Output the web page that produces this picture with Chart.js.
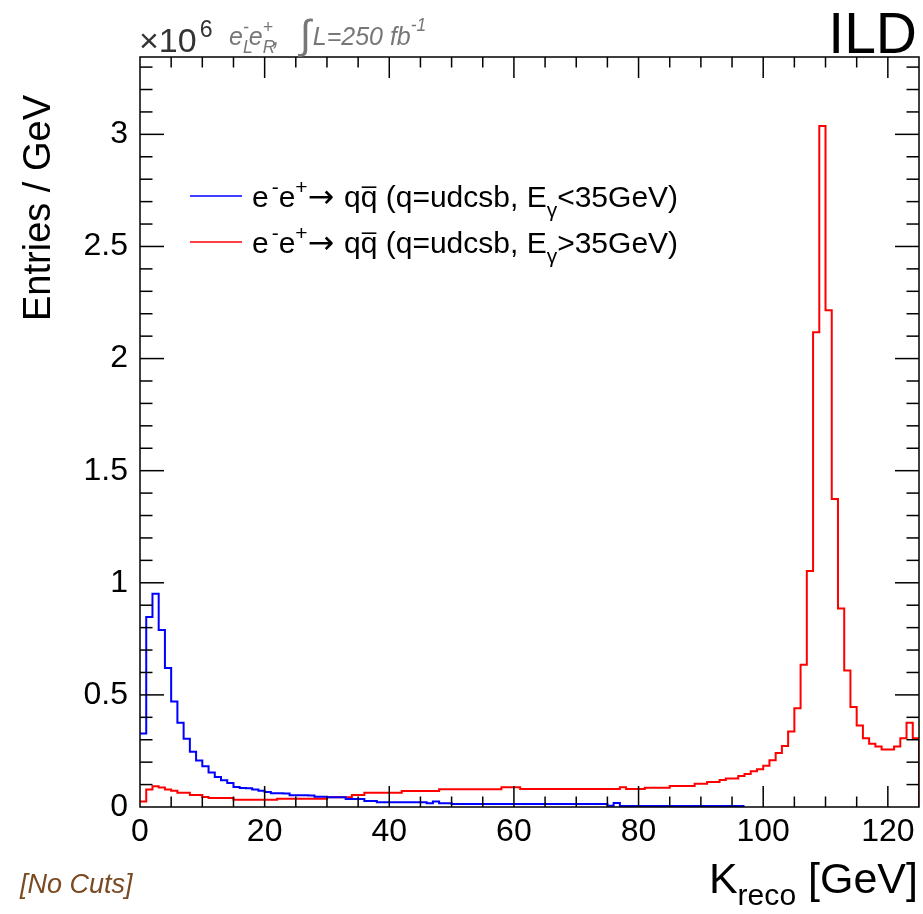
<!DOCTYPE html>
<html>
<head>
<meta charset="utf-8">
<script src="https://cdn.jsdelivr.net/npm/chart.js@4.4.0/dist/chart.umd.min.js"></script>
<style>
  html, body { margin: 0; padding: 0; background: #fff; }
  canvas { display: block; }
</style>
</head>
<body>
<canvas id="canvas" width="923" height="914"></canvas>
<script>
// bin contents, 10^6 entries / GeV, 1 GeV bins starting at K = 0
var blueBins = [
  0.328, 0.847, 0.951, 0.789, 0.620, 0.471, 0.376, 0.304, 0.246, 0.207,
  0.182, 0.154, 0.134, 0.119, 0.107, 0.089, 0.085, 0.084, 0.078, 0.072,
  0.067, 0.061, 0.061, 0.060, 0.052, 0.052, 0.052, 0.051, 0.046, 0.046,
  0.043, 0.043, 0.043, 0.036, 0.036, 0.036, 0.027, 0.027, 0.021, 0.021,
  0.021, 0.021, 0.021, 0.021, 0.021, 0.021, 0.017, 0.024, 0.017, 0.017,
  0.013, 0.013, 0.013, 0.013, 0.013, 0.013, 0.013, 0.013, 0.013, 0.013,
  0.013, 0.013, 0.013, 0.013, 0.013, 0.013, 0.013, 0.013, 0.013, 0.013,
  0.013, 0.013, 0.013, 0.013, 0.013, 0.006, 0.018, 0.005, 0.005, 0.005,
  0.005, 0.005, 0.005, 0.005, 0.005, 0.005, 0.005, 0.005, 0.005, 0.005,
  0.005, 0.005, 0.005, 0.005, 0.005, 0.005, 0.005
];
var redBins = [
  0.024, 0.078, 0.093, 0.087, 0.078, 0.072, 0.063, 0.063, 0.054, 0.054,
  0.045, 0.040, 0.040, 0.040, 0.040, 0.032, 0.032, 0.032, 0.032, 0.032,
  0.032, 0.032, 0.037, 0.037, 0.037, 0.037, 0.037, 0.037, 0.037, 0.037,
  0.043, 0.043, 0.043, 0.043, 0.054, 0.054, 0.064, 0.064, 0.064, 0.064,
  0.064, 0.064, 0.071, 0.071, 0.071, 0.071, 0.071, 0.071, 0.079, 0.079,
  0.079, 0.079, 0.079, 0.079, 0.079, 0.079, 0.079, 0.079, 0.088, 0.088,
  0.088, 0.080, 0.080, 0.080, 0.080, 0.080, 0.080, 0.080, 0.080, 0.080,
  0.080, 0.080, 0.080, 0.080, 0.080, 0.080, 0.080, 0.088, 0.080, 0.080,
  0.080, 0.086, 0.086, 0.086, 0.086, 0.094, 0.094, 0.094, 0.094, 0.104,
  0.104, 0.111, 0.111, 0.120, 0.127, 0.127, 0.138, 0.147, 0.159, 0.168,
  0.184, 0.209, 0.241, 0.272, 0.337, 0.440, 0.634, 1.053, 2.117, 3.037,
  2.215, 1.374, 0.885, 0.609, 0.446, 0.364, 0.307, 0.282, 0.270, 0.256,
  0.256, 0.270, 0.307, 0.376, 0.307
];
var xTickValues = [0, 20, 40, 60, 80, 100, 120];
var yTickValues = [0, 0.5, 1, 1.5, 2, 2.5, 3];
var yTickLabels = ['0', '0.5', '1', '1.5', '2', '2.5', '3'];

var FONT = '"Liberation Sans", "DejaVu Sans", sans-serif';

// step outline of a histogram: one point per low bin edge, plus the upper edge
function histPoints(bins, dropToZero) {
  var pts = bins.map(function(v, i) { return { x: i, y: v }; });
  pts.push({ x: bins.length, y: bins[bins.length - 1] });
  if (dropToZero) pts.push({ x: bins.length, y: 0 });
  return pts;
}

// pieces: {t, k: size factor, dy: shift in em, stay: no advance, bar: overline, f: font}
function richText(ctx, x, y, size, style, pieces, dry) {
  var x0 = x;
  pieces.forEach(function(p) {
    var fs = size * (p.k || 1);
    ctx.font = style + ' ' + fs + 'px ' + (p.f || FONT);
    var w = ctx.measureText(p.t).width;
    if (!dry) {
      ctx.fillText(p.t, x, y + (p.dy || 0) * size);
      if (p.bar) {
        ctx.save();
        ctx.lineWidth = 1.6;
        ctx.strokeStyle = ctx.fillStyle;
        ctx.beginPath();
        ctx.moveTo(x + 1, y - size * 0.66);
        ctx.lineTo(x + w - 1, y - size * 0.66);
        ctx.stroke();
        ctx.restore();
      }
    }
    if (!p.stay) x += w + (p.sp || 0);
  });
  return x - x0;
}

function tick(ctx, x1, y1, x2, y2) {
  ctx.beginPath();
  ctx.moveTo(x1, y1);
  ctx.lineTo(x2, y2);
  ctx.stroke();
}

// frame with inward ticks on all four sides
var framePlugin = {
  id: 'frame',
  afterDatasetsDraw: function(chart) {
    var ctx = chart.ctx, a = chart.chartArea;
    var xs = chart.scales.x, ys = chart.scales.y;
    ctx.save();
    ctx.strokeStyle = '#000';
    ctx.lineWidth = 1.5;
    ctx.strokeRect(a.left, a.top, a.right - a.left, a.bottom - a.top);
    for (var v = 5; v < 125; v += 5) {
      var px = xs.getPixelForValue(v);
      var len = v % 20 === 0 ? 21 : 10.5;
      tick(ctx, px, a.bottom, px, a.bottom - len);
      tick(ctx, px, a.top, px, a.top + len);
    }
    for (var k = 1; k <= 33; k++) {
      var py = ys.getPixelForValue(k / 10);
      var ylen = k % 5 === 0 ? 24 : 12.5;
      tick(ctx, a.left, py, a.left + ylen, py);
      tick(ctx, a.right, py, a.right - ylen, py);
    }
    ctx.restore();
  }
};

var labelPlugin = {
  id: 'labels',
  afterDraw: function(chart) {
    var ctx = chart.ctx;
    var ds = chart.data.datasets;
    ctx.save();
    ctx.textBaseline = 'alphabetic';
    ctx.textAlign = 'left';

    // legend
    var rows = [
      { y: 207, sign: '<' },
      { y: 253, sign: '>' }
    ];
    rows.forEach(function(r, i) {
      ctx.strokeStyle = ds[i].borderColor;
      ctx.lineWidth = 1.5;
      tick(ctx, 190, r.y - 11, 242, r.y - 11);
      ctx.fillStyle = '#000';
      richText(ctx, 252, r.y, 30, '', [
        { t: 'e', sp: 3 }, { t: '-', k: 0.7, dy: -0.42 }, { t: 'e' }, { t: '+', k: 0.7, dy: -0.42 },
        { t: '\u2192', f: '"DejaVu Sans", sans-serif', k: 1.05, sp: 10 }, { t: 'q' }, { t: 'q', bar: true },
        { t: ' (q=udcsb, E' }, { t: '\u03b3', k: 0.7, dy: 0.32 },
        { t: r.sign + '35GeV)' }
      ]);
    });

    // exponent and run conditions
    ctx.fillStyle = '#333';
    richText(ctx, 139, 52, 34, '', [{ t: '\u00d710', sp: 3 }, { t: '6', k: 0.68, dy: -0.45 }]);
    ctx.fillStyle = '#777';
    richText(ctx, 229, 45, 25, 'italic', [
      { t: 'e' }, { t: 'L', k: 0.7, dy: 0.3, stay: true }, { t: '-', k: 0.7, dy: -0.5 },
      { t: 'e' }, { t: 'R', k: 0.7, dy: 0.3, stay: true }, { t: '+', k: 0.7, dy: -0.5 },
      { t: ',', sp: 20 }, { t: '\u222b', k: 1.6, dy: 0.12, sp: 2 }, { t: 'L=250 fb' },
      { t: '-1', k: 0.7, dy: -0.55 }
    ]);

    // detector tag
    ctx.fillStyle = '#000';
    ctx.textAlign = 'right';
    ctx.font = '57px ' + FONT;
    ctx.fillText('ILD', 917, 53);

    // y title
    ctx.save();
    ctx.translate(50, 95);
    ctx.rotate(-Math.PI / 2);
    ctx.textAlign = 'right';
    ctx.font = '38px ' + FONT;
    ctx.fillText('Entries / GeV', 0, 0);
    ctx.restore();

    // x title, right aligned to the frame
    ctx.textAlign = 'left';
    var xt = [{ t: 'K' }, { t: 'reco', k: 0.7, dy: 0.28 }, { t: ' [GeV]' }];
    var w = richText(ctx, 0, 0, 43, '', xt, true);
    richText(ctx, 918 - w, 893, 43, '', xt);

    ctx.fillStyle = '#7a4a22';
    ctx.font = 'italic 27px ' + FONT;
    ctx.fillText('[No Cuts]', 20, 893);
    ctx.restore();
  }
};

var config = {
  type: 'line',
  data: {
    datasets: [{
      label: 'e-e+ -> qq (q=udcsb, Egamma<35GeV)',
      data: histPoints(blueBins, false),
      borderColor: '#0000ff',
      borderWidth: 2,
      stepped: 'before',
      pointRadius: 0,
      fill: false
    }, {
      label: 'e-e+ -> qq (q=udcsb, Egamma>35GeV)',
      data: histPoints(redBins, true),
      borderColor: '#ff0000',
      borderWidth: 2,
      stepped: 'before',
      pointRadius: 0,
      fill: false
    }]
  },
  options: {
    responsive: false,
    animation: false,
    layout: { padding: { top: 57, right: 4, left: 0, bottom: 0 } },
    plugins: { legend: { display: false }, tooltip: { enabled: false } },
    scales: {
      x: {
        type: 'linear', min: 0, max: 125,
        grid: { display: false, drawTicks: false },
        border: { display: false },
        afterBuildTicks: function(s) { s.ticks = xTickValues.map(function(v) { return { value: v }; }); },
        afterFit: function(s) { s.height = 107; },
        ticks: {
          padding: 6, color: '#000', maxRotation: 0, autoSkip: false,
          font: { family: FONT, size: 32 },
          callback: function(v) { return String(v); }
        }
      },
      y: {
        type: 'linear', min: 0, max: 3.345,
        grid: { display: false, drawTicks: false },
        border: { display: false },
        afterBuildTicks: function(s) { s.ticks = yTickValues.map(function(v) { return { value: v }; }); },
        afterFit: function(s) { s.width = 140; },
        ticks: {
          padding: 12, color: '#000', autoSkip: false,
          font: { family: FONT, size: 32 },
          callback: function(v, i) { return yTickLabels[i]; }
        }
      }
    }
  },
  plugins: [framePlugin, labelPlugin]
};

var ctx = document.getElementById('canvas').getContext('2d');
window.myChart = new Chart(ctx, config);
</script>
</body>
</html>
